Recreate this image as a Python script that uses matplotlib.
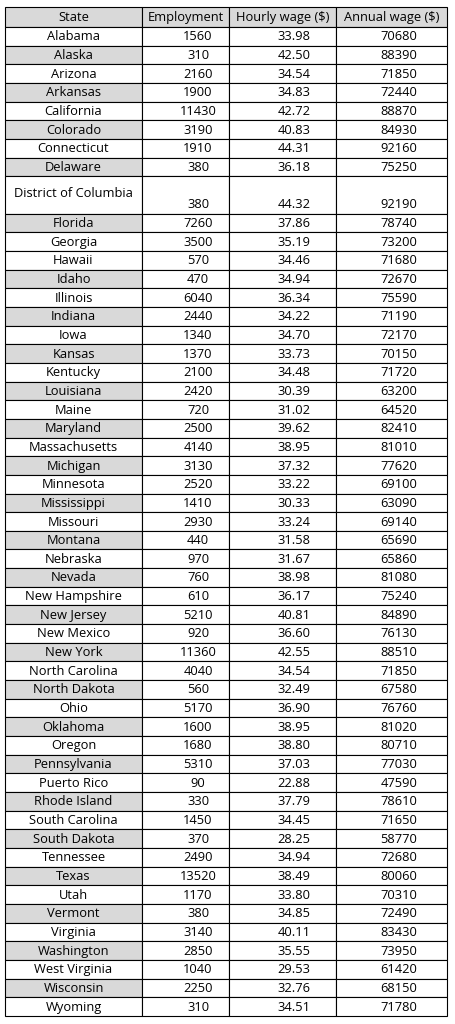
import matplotlib.pyplot as plt
from matplotlib.patches import Rectangle

plt.rcParams['font.family'] = ['Open Sans', 'DejaVu Sans']

headers = ["State", "Employment", "Hourly wage ($)", "Annual wage ($)"]
states = ["Alabama", "Alaska", "Arizona", "Arkansas", "California", "Colorado", "Connecticut",
          "Delaware", "District of Columbia", "Florida", "Georgia", "Hawaii", "Idaho", "Illinois",
          "Indiana", "Iowa", "Kansas", "Kentucky", "Louisiana", "Maine", "Maryland",
          "Massachusetts", "Michigan", "Minnesota", "Mississippi", "Missouri", "Montana",
          "Nebraska", "Nevada", "New Hampshire", "New Jersey", "New Mexico", "New York",
          "North Carolina", "North Dakota", "Ohio", "Oklahoma", "Oregon", "Pennsylvania",
          "Puerto Rico", "Rhode Island", "South Carolina", "South Dakota", "Tennessee", "Texas",
          "Utah", "Vermont", "Virginia", "Washington", "West Virginia", "Wisconsin", "Wyoming"]
shaded = ["Alaska", "Arkansas", "Colorado", "Delaware", "Florida", "Idaho", "Indiana", "Kansas",
          "Louisiana", "Maryland", "Michigan", "Mississippi", "Montana", "Nevada", "New Jersey",
          "New York", "North Dakota", "Oklahoma", "Pennsylvania", "Rhode Island", "South Dakota",
          "Texas", "Vermont", "Washington", "Wisconsin"]
employment = [1560, 310, 2160, 1900, 11430, 3190, 1910, 380, 380, 7260, 3500, 570, 470, 6040,
              2440, 1340, 1370, 2100, 2420, 720, 2500, 4140, 3130, 2520, 1410, 2930, 440, 970,
              760, 610, 5210, 920, 11360, 4040, 560, 5170, 1600, 1680, 5310, 90, 330, 1450, 370,
              2490, 13520, 1170, 380, 3140, 2850, 1040, 2250, 310]
hourly = ["33.98", "42.50", "34.54", "34.83", "42.72", "40.83", "44.31", "36.18", "44.32", "37.86",
          "35.19", "34.46", "34.94", "36.34", "34.22", "34.70", "33.73", "34.48", "30.39", "31.02",
          "39.62", "38.95", "37.32", "33.22", "30.33", "33.24", "31.58", "31.67", "38.98", "36.17",
          "40.81", "36.60", "42.55", "34.54", "32.49", "36.90", "38.95", "38.80", "37.03", "22.88",
          "37.79", "34.45", "28.25", "34.94", "38.49", "33.80", "34.85", "40.11", "35.55", "29.53",
          "32.76", "34.51"]
annual = [70680, 88390, 71850, 72440, 88870, 84930, 92160, 75250, 92190, 78740, 73200, 71680,
          72670, 75590, 71190, 72170, 70150, 71720, 63200, 64520, 82410, 81010, 77620, 69100,
          63090, 69140, 65690, 65860, 81080, 75240, 84890, 76130, 88510, 71850, 67580, 76760,
          81020, 80710, 77030, 47590, 78610, 71650, 58770, 72680, 80060, 70310, 72490, 83430,
          73950, 61420, 68150, 71780]

fig = plt.figure(figsize=(4.55, 10.24), dpi=100)
ax = fig.add_axes([0, 0, 1, 1])
ax.set_xlim(0, 455)
ax.set_ylim(1024, 0)
ax.axis('off')

col_x = [5, 142, 229, 336, 447]
text_x = [(col_x[0] + col_x[1]) / 2, 198, 294, 399]
gray = '#d9d9d9'
fs = 9.3
top, hh = 7, 20
rh = (1016 - top - hh) / (len(states) + 1)

# header
for c in range(4):
    ax.add_patch(Rectangle((col_x[c], top), col_x[c + 1] - col_x[c], hh, fc=gray, ec='black', lw=0.8))
    ax.text((col_x[c] + col_x[c + 1]) / 2, top + hh / 2 + 0.5, headers[c], ha='center', va='center', fontsize=fs)

y = top + hh
for i, st in enumerate(states):
    h = rh * 2 if st == "District of Columbia" else rh
    for c in range(4):
        fc = gray if (c == 0 and st in shaded) else 'white'
        ax.add_patch(Rectangle((col_x[c], y), col_x[c + 1] - col_x[c], h, fc=fc, ec='black', lw=0.8))
    if h > rh:
        ax.text(text_x[0], y + h * 0.45, st, ha='center', va='center', fontsize=fs)
        ny = y + h - rh / 2
    else:
        ax.text(text_x[0], y + h / 2 + 0.5, st, ha='center', va='center', fontsize=fs)
        ny = y + h / 2 + 0.5
    ax.text(text_x[1], ny, str(employment[i]), ha='center', va='center', fontsize=fs)
    ax.text(text_x[2], ny, hourly[i], ha='center', va='center', fontsize=fs)
    ax.text(text_x[3], ny, str(annual[i]), ha='center', va='center', fontsize=fs)
    y += h

fig.savefig('out.png', dpi=100)
